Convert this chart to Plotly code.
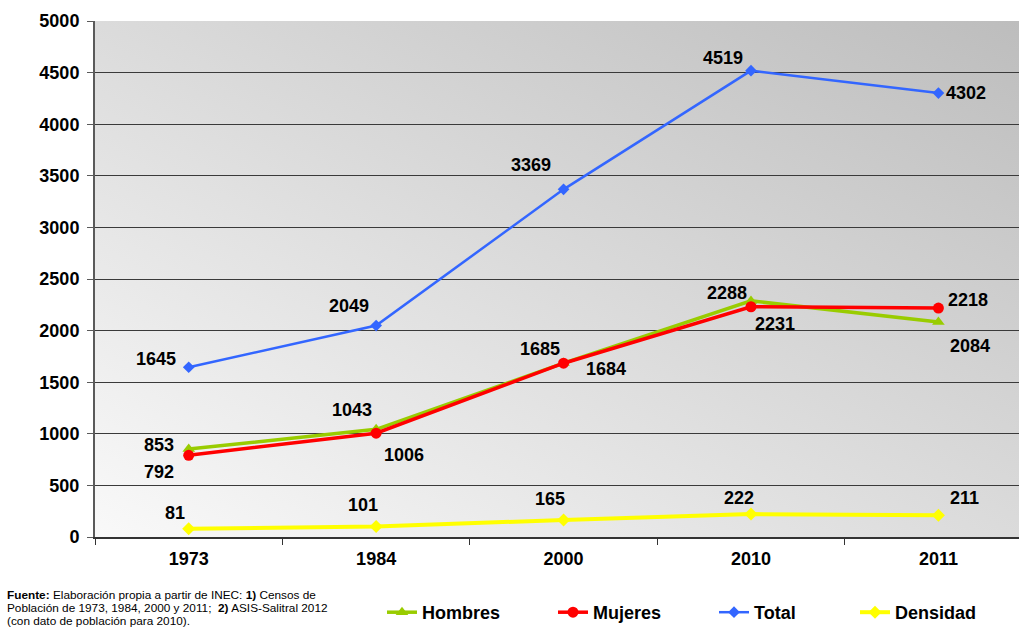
import base64
import plotly.graph_objects as go

# Census years and population series
years = ["1973", "1984", "2000", "2010", "2011"]
hombres = [853, 1043, 1685, 2288, 2084]
mujeres = [792, 1006, 1684, 2231, 2218]
total = [1645, 2049, 3369, 4519, 4302]
densidad = [81, 101, 165, 222, 211]

# Offsets (px) of each value label from its marker
hombres_shift = [(-30, 4), (-24, 19), (-24, 14), (-24, 8), (32, -24)]
mujeres_shift = [(-30, -17), (28, -22), (42, -6), (24, -17), (30, 8)]
total_shift = [(-33, 8), (-27, 20), (-33, 24), (-28, 13), (28, 0)]
densidad_shift = [(-14, 16), (-13, 22), (-14, 21), (-12, 16), (26, 17)]

# Source note, one entry per line
source_lines = [
    "<b>Fuente:</b> Elaboración propia a partir de INEC: <b>1)</b> Censos de",
    "Población de 1973, 1984, 2000 y 2011;  <b>2)</b> ASIS-Salitral 2012",
    "(con dato de población para 2010).",
]

FONT = "Liberation Sans, Arial, sans-serif"

series = [
    ("Hombres", hombres, "#99cc00", "triangle-up", 11, 3.5, hombres_shift, "legend"),
    ("Mujeres", mujeres, "#ff0000", "circle", 11, 3.5, mujeres_shift, "legend2"),
    ("Total", total, "#3366ff", "diamond", 9, 2.5, total_shift, "legend3"),
    ("Densidad", densidad, "#ffff00", "diamond", 10, 4, densidad_shift, "legend4"),
]

fig = go.Figure()
annotations = []
for name, vals, color, symbol, msize, lw, shifts, leg in series:
    fig.add_trace(go.Scatter(
        x=years, y=vals, name=name, mode="lines+markers",
        line=dict(color=color, width=lw),
        marker=dict(symbol=symbol, size=msize, color=color),
        legend=leg, hoverinfo="x+y+name",
    ))
    # value labels, placed by category index on the category axis
    for i, (v, (dx, dy)) in enumerate(zip(vals, shifts)):
        annotations.append(dict(
            x=i, y=v, xref="x", yref="y", text=str(v), showarrow=False,
            xshift=dx, yshift=dy,
            font=dict(family=FONT, size=18, color="#000000", weight="bold"),
        ))

# source note below the plot, lines 13 px apart
for k, line in enumerate(source_lines):
    annotations.append(dict(
        xref="paper", yref="paper", x=-0.0974, y=-0.1124, yshift=-13 * k,
        xanchor="left", yanchor="middle", align="left", showarrow=False,
        text=line, font=dict(family=FONT, size=11.8, color="#000000"),
    ))

# Diagonal grey gradient behind the plotting area
svg = (
    "<svg xmlns='http://www.w3.org/2000/svg' width='200' height='200' "
    "viewBox='0 0 200 200' preserveAspectRatio='none'>"
    "<defs><linearGradient id='g' x1='0' y1='1' x2='1' y2='0'>"
    "<stop offset='0' stop-color='#f9f9f9'/><stop offset='1' stop-color='#bdbdbd'/>"
    "</linearGradient></defs><rect width='200' height='200' fill='url(#g)'/></svg>"
)
bg_src = "data:image/svg+xml;base64," + base64.b64encode(svg.encode()).decode()

legend_font = dict(family=FONT, size=18, color="#000000", weight="bold")
leg_common = dict(orientation="h", yanchor="middle", y=-0.147, xanchor="left",
                  bgcolor="rgba(0,0,0,0)", borderwidth=0, font=legend_font)

fig.update_layout(
    width=1019, height=631,
    margin=dict(l=95, r=0, t=21, b=94),
    paper_bgcolor="#ffffff", plot_bgcolor="rgba(0,0,0,0)",
    showlegend=True,
    legend=dict(x=(382 - 95) / 924, **leg_common),
    legend2=dict(x=(553 - 95) / 924, **leg_common),
    legend3=dict(x=(714 - 95) / 924, **leg_common),
    legend4=dict(x=(855 - 95) / 924, **leg_common),
    annotations=annotations,
    images=[dict(source=bg_src, xref="paper", yref="paper", x=0, y=1,
                 sizex=1, sizey=1, xanchor="left", yanchor="top",
                 sizing="stretch", layer="below")],
    xaxis=dict(
        type="category", range=[-0.5, 4.43], showgrid=False, zeroline=False,
        showline=True, linecolor="#333333", linewidth=1.5,
        ticks="outside", tickson="boundaries", ticklen=6, tickcolor="#333333",
        tickfont=dict(family=FONT, size=18, color="#000000", weight="bold"),
        ticklabelstandoff=5,
    ),
    yaxis=dict(
        range=[0, 5000], dtick=500, showgrid=True, gridcolor="#3a3a3a", gridwidth=1,
        zeroline=False, showline=True, linecolor="#5a5a5a", linewidth=2,
        ticks="outside", ticklen=6, tickcolor="#5a5a5a",
        tickfont=dict(family=FONT, size=18, color="#000000", weight="bold"),
        ticklabelstandoff=4,
    ),
)

fig.write_html("out.html")
